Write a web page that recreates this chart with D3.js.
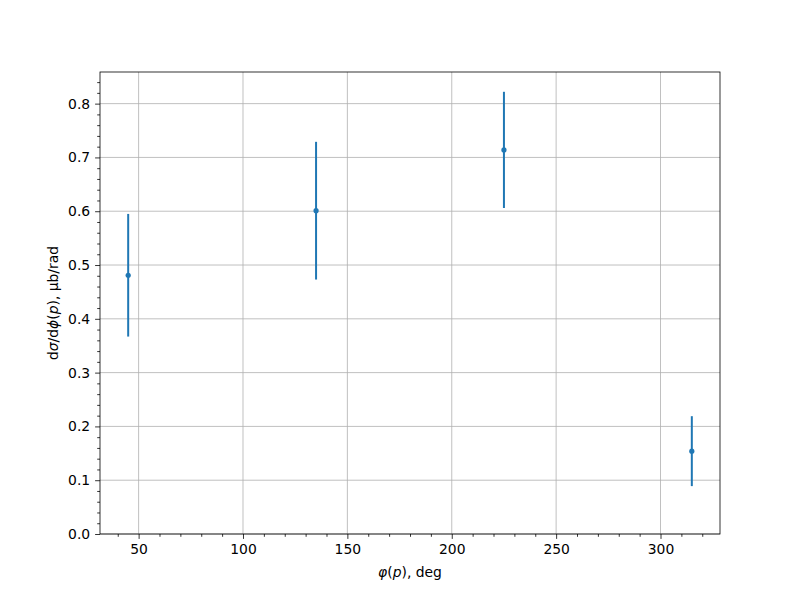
<!DOCTYPE html>
<html>
<head>
<meta charset="utf-8">
<script src="https://cdn.jsdelivr.net/npm/d3@7"></script>
<style>
  body { margin: 0; background: #fff; }
  text { font-family: "DejaVu Sans", sans-serif; }
</style>
</head>
<body>
<svg id="chart" width="800" height="600"></svg>
<script>
(() => {
  // data
  const phi = [45, 135, 225, 315];
  const xsec = [0.481, 0.601, 0.714, 0.154];
  const xsecErr = [0.114, 0.128, 0.108, 0.065];
  const xTicks = [50, 100, 150, 200, 250, 300];
  const yTicks = [0, 0.1, 0.2, 0.3, 0.4, 0.5, 0.6, 0.7, 0.8];

  const svg = d3.select('#chart'),
      margin = {top: 72, right: 80, bottom: 66, left: 100},
      width = 800 - margin.left - margin.right,
      height = 600 - margin.top - margin.bottom,
      color = '#1f77b4';

  svg.append('rect').attr('width', 800).attr('height', 600).attr('fill', '#fff');

  const g = svg.append('g')
      .attr('transform', `translate(${margin.left},${margin.top})`);

  const x = d3.scaleLinear().domain([31.5, 328.5]).range([0, width]);
  const y = d3.scaleLinear().domain([0, 0.8588]).range([height, 0]);

  // grid
  g.append('g').selectAll('line').data(xTicks).enter().append('line')
      .attr('x1', d => x(d)).attr('x2', d => x(d))
      .attr('y1', 0).attr('y2', height)
      .attr('stroke', '#b0b0b0').attr('stroke-width', 0.8);
  g.append('g').selectAll('line').data(yTicks).enter().append('line')
      .attr('y1', d => y(d)).attr('y2', d => y(d))
      .attr('x1', 0).attr('x2', width)
      .attr('stroke', '#b0b0b0').attr('stroke-width', 0.8);

  // minor ticks
  const xMinor = d3.range(40, 330, 10).filter(d => d % 50 !== 0);
  const yMinor = d3.range(0, 0.86, 0.02).filter(d => Math.abs(d * 10 - Math.round(d * 10)) > 1e-6);

  const xAxis = g.append('g')
      .attr('transform', `translate(0,${height})`)
      .call(d3.axisBottom(x).tickValues(xTicks).tickSize(4.9).tickPadding(4.9)
          .tickFormat(d3.format('d')));
  g.append('g')
      .attr('transform', `translate(0,${height})`)
      .call(d3.axisBottom(x).tickValues(xMinor).tickSize(2.8).tickFormat(''))
      .call(a => a.select('.domain').remove());

  const yAxis = g.append('g')
      .call(d3.axisLeft(y).tickValues(yTicks).tickSize(4.9).tickPadding(4.9)
          .tickFormat(d3.format('.1f')));
  g.append('g')
      .call(d3.axisLeft(y).tickValues(yMinor).tickSize(2.8).tickFormat(''))
      .call(a => a.select('.domain').remove());

  g.selectAll('.tick text')
      .attr('font-size', 13.9)
      .attr('font-family', 'DejaVu Sans')
      .attr('fill', '#000');
  g.selectAll('.tick line').attr('stroke', '#000').attr('stroke-width', 0.8);
  xAxis.select('.domain').remove();
  yAxis.select('.domain').remove();

  // frame
  g.append('rect')
      .attr('width', width).attr('height', height)
      .attr('fill', 'none').attr('stroke', '#000').attr('stroke-width', 0.8);

  // error bars and points
  const pts = phi.map((p, i) => ({p: p, v: xsec[i], e: xsecErr[i]}));
  g.append('g').selectAll('line').data(pts).enter().append('line')
      .attr('x1', d => x(d.p)).attr('x2', d => x(d.p))
      .attr('y1', d => y(d.v - d.e)).attr('y2', d => y(d.v + d.e))
      .attr('stroke', color).attr('stroke-width', 2);
  g.append('g').selectAll('circle').data(pts).enter().append('circle')
      .attr('cx', d => x(d.p)).attr('cy', d => y(d.v))
      .attr('r', 2.6).attr('fill', color);

  // axis labels
  const xl = svg.append('text')
      .attr('x', margin.left + width / 2).attr('y', 577)
      .attr('text-anchor', 'middle').attr('font-size', 13.9);
  xl.append('tspan').attr('font-style', 'italic').text('φ');
  xl.append('tspan').text('(');
  xl.append('tspan').attr('font-style', 'italic').text('p');
  xl.append('tspan').text('), deg');

  const yl = svg.append('text')
      .attr('transform', `translate(58,${margin.top + height / 2}) rotate(-90)`)
      .attr('text-anchor', 'middle').attr('font-size', 13.9);
  yl.append('tspan').text('d');
  yl.append('tspan').attr('font-style', 'italic').text('σ');
  yl.append('tspan').text('/d');
  yl.append('tspan').attr('font-style', 'italic').text('ϕ');
  yl.append('tspan').text('(');
  yl.append('tspan').attr('font-style', 'italic').text('p');
  yl.append('tspan').text('), μb/rad');
})();
</script>
</body>
</html>
